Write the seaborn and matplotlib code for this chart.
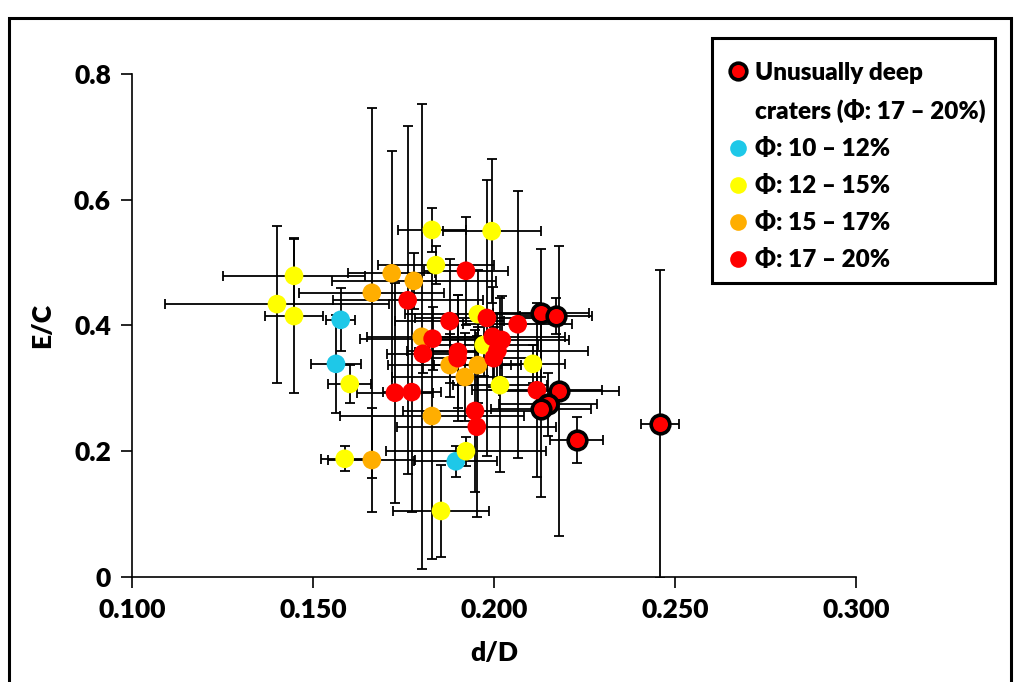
import numpy as np
import pandas as pd
import matplotlib
matplotlib.use("Agg")
import matplotlib.pyplot as plt
from matplotlib.lines import Line2D
from matplotlib.patches import Rectangle
from matplotlib.ticker import FuncFormatter
import seaborn as sns

# ---- crater measurements: depth/diameter (d/D) vs. E/C, with 1-sigma errors ----
phi10_dD = [0.1577, 0.1564, 0.1895]
phi10_EC = [0.409, 0.339, 0.184]
phi10_dD_err = [0.004, 0.0069, 0.0115]
phi10_EC_err = [0.050, 0.078, 0.025]

phi12_dD = [0.1448, 0.1401, 0.1448, 0.1602, 0.1588, 0.1829, 0.1994,
            0.1840, 0.1956, 0.1972, 0.2108, 0.2017, 0.1923, 0.1854]
phi12_EC = [0.479, 0.434, 0.415, 0.307, 0.188, 0.552, 0.550,
            0.496, 0.418, 0.369, 0.339, 0.305, 0.200, 0.105]
phi12_dD_err = [0.0195, 0.031, 0.008, 0.006, 0.0065, 0.0094, 0.0135,
                0.016, 0.020, 0.015, 0.0088, 0.013, 0.022, 0.0132]
phi12_EC_err = [0.060, 0.125, 0.122, 0.030, 0.020, 0.035, 0.115,
                0.030, 0.070, 0.050, 0.030, 0.138, 0.023, 0.073]

phi15_dD = [0.1718, 0.1779, 0.1663, 0.1801, 0.1878, 0.1920, 0.1956, 0.1829, 0.1663]
phi15_EC = [0.483, 0.471, 0.452, 0.382, 0.337, 0.318, 0.337, 0.256, 0.186]
phi15_dD_err = [0.012, 0.0227, 0.020, 0.015, 0.017, 0.020, 0.012, 0.0254, 0.012]
phi15_EC_err = [0.195, 0.044, 0.294, 0.370, 0.050, 0.070, 0.060, 0.227, 0.083]

phi17_dD = [0.1762, 0.1923, 0.1878, 0.1981, 0.2066, 0.1831, 0.1804, 0.1997, 0.2022,
            0.1901, 0.1900, 0.2010, 0.2000, 0.1727, 0.1773, 0.1948, 0.1953, 0.2119]
phi17_EC = [0.440, 0.487, 0.407, 0.412, 0.402, 0.379, 0.355, 0.382, 0.377,
            0.358, 0.348, 0.360, 0.348, 0.293, 0.294, 0.264, 0.239, 0.297]
phi17_dD_err = [0.0207, 0.0116, 0.015, 0.020, 0.015, 0.020, 0.010, 0.020, 0.0185,
                0.012, 0.010, 0.025, 0.012, 0.0105, 0.008, 0.020, 0.022, 0.018]
phi17_EC_err = [0.277, 0.086, 0.099, 0.220, 0.212, 0.050, 0.030, 0.080, 0.070,
                0.090, 0.100, 0.060, 0.050, 0.175, 0.190, 0.129, 0.144, 0.138]

deep_dD = [0.2130, 0.2171, 0.2180, 0.2149, 0.2130, 0.2229, 0.2459]
deep_EC = [0.420, 0.415, 0.296, 0.275, 0.267, 0.218, 0.243]
deep_dD_err = [0.0132, 0.010, 0.0165, 0.0136, 0.0138, 0.0073, 0.0052]
deep_EC_err = [0.102, 0.028, 0.231, 0.050, 0.140, 0.036, 0.245]

group_labels = ["Φ: 10 – 12%", "Φ: 12 – 15%", "Φ: 15 – 17%", "Φ: 17 – 20%"]
deep_label_lines = ["Unusually deep", "craters (Φ: 17 – 20%)"]
x_ticks = [0.100, 0.150, 0.200, 0.250, 0.300]
y_ticks = [0, 0.2, 0.4, 0.6, 0.8]

colors = {
    group_labels[0]: "#1ec8e8",
    group_labels[1]: "#ffff00",
    group_labels[2]: "#ffae00",
    group_labels[3]: "#ff0000",
}

frames = []
for lab, xs, ys, xe, ye in [
    (group_labels[0], phi10_dD, phi10_EC, phi10_dD_err, phi10_EC_err),
    (group_labels[1], phi12_dD, phi12_EC, phi12_dD_err, phi12_EC_err),
    (group_labels[2], phi15_dD, phi15_EC, phi15_dD_err, phi15_EC_err),
    (group_labels[3], phi17_dD, phi17_EC, phi17_dD_err, phi17_EC_err),
]:
    frames.append(pd.DataFrame({"dD": xs, "EC": ys, "dD_err": xe, "EC_err": ye, "group": lab}))
regular = pd.concat(frames, ignore_index=True)
deep = pd.DataFrame({"dD": deep_dD, "EC": deep_EC, "dD_err": deep_dD_err, "EC_err": deep_EC_err})
allpts = pd.concat([regular, deep.assign(group="deep")], ignore_index=True)

sns.set_theme(style="ticks")
plt.rcParams["font.family"] = ["Lato", "DejaVu Sans"]
plt.rcParams["font.weight"] = "heavy"
WEIGHT = "heavy"

fig = plt.figure(figsize=(10.14, 6.82), dpi=100)
ax = fig.add_axes([0.130, 0.154, 0.714, 0.7375])

# error bars underneath the markers
ax.errorbar(allpts["dD"], allpts["EC"], xerr=allpts["dD_err"], yerr=allpts["EC_err"],
            fmt="none", ecolor="black", elinewidth=1.3, capsize=3.5, capthick=1.3, zorder=1)

sns.scatterplot(data=regular, x="dD", y="EC", hue="group", palette=colors,
                s=180, linewidth=0, legend=False, ax=ax, zorder=3)
sns.scatterplot(data=deep, x="dD", y="EC", color="#ff0000", edgecolor="black",
                s=180, linewidth=2.6, legend=False, ax=ax, zorder=4)

ax.set_xlim(0.100, 0.300)
ax.set_ylim(0, 0.8)
ax.set_xticks(x_ticks)
ax.set_yticks(y_ticks)
ax.xaxis.set_major_formatter(FuncFormatter(lambda v, p: f"{v:.3f}"))
ax.yaxis.set_major_formatter(FuncFormatter(lambda v, p: "0" if abs(v) < 1e-9 else f"{v:.1f}"))
ax.tick_params(direction="out", length=8, width=1.2, color="black", labelsize=19,
               labelcolor="black", pad=7)
for lbl in ax.get_xticklabels() + ax.get_yticklabels():
    lbl.set_fontweight(WEIGHT)
for s in ["left", "bottom"]:
    ax.spines[s].set_color("black")
    ax.spines[s].set_linewidth(1.2)
sns.despine(ax=ax)

ax.set_xlabel("d/D", fontsize=19, fontweight=WEIGHT, color="black", labelpad=14)
ax.set_ylabel("E/C", fontsize=19, fontweight=WEIGHT, color="black", labelpad=14)

# legend: the deep-crater label runs over two lines, the second without a marker
blank = Line2D([], [], linestyle="none", marker=None)
handles = [Line2D([], [], linestyle="none", marker="o", markersize=12,
                  markerfacecolor="#ff0000", markeredgecolor="black", markeredgewidth=2.6),
           blank]
for lab in group_labels:
    handles.append(Line2D([], [], linestyle="none", marker="o", markersize=12,
                          markerfacecolor=colors[lab], markeredgewidth=0))
labels = deep_label_lines + group_labels
leg = fig.legend(handles, labels, loc="upper left", bbox_to_anchor=(726 / 1014, 1 - 62 / 682),
                 frameon=False, prop={"size": 17.5, "weight": WEIGHT}, handletextpad=0.2,
                 handlelength=1.0, labelspacing=0.62, borderpad=0, borderaxespad=0)
for t in leg.get_texts():
    t.set_color("black")

# legend box
fig.add_artist(Rectangle((712 / 1014, 1 - 283 / 682), 283 / 1014, 245 / 682,
                         transform=fig.transFigure, fill=False, edgecolor="black",
                         linewidth=2.2))

# outer frame around the whole figure
fig.add_artist(Rectangle((0.009, -0.05), 0.988, 1.024, transform=fig.transFigure,
                         fill=False, edgecolor="black", linewidth=2.2))

fig.savefig("out.png", dpi=100, facecolor="white")
